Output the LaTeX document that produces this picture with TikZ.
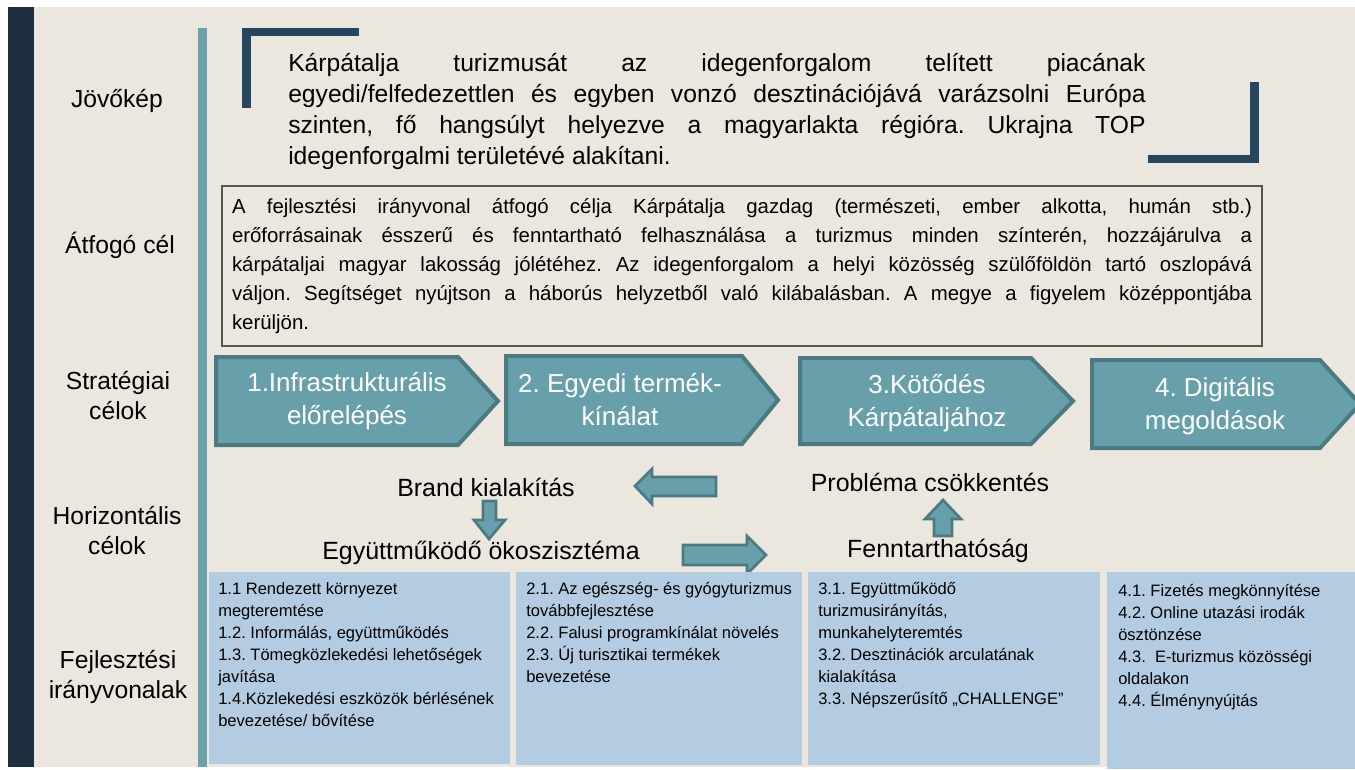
\documentclass[tikz,border=0pt]{standalone}
\usepackage{fontspec}
\setmainfont{Liberation Sans}
\frenchspacing
\usepackage{tikz}
\usetikzlibrary{positioning}
\definecolor{bgbeige}{RGB}{235,231,222}
\definecolor{navybar}{RGB}{30,46,62}
\definecolor{tealline}{RGB}{106,162,172}
\definecolor{bracketblue}{RGB}{38,70,96}
\definecolor{chevfill}{RGB}{103,160,170}
\definecolor{chevborder}{RGB}{76,122,129}
\definecolor{boxblue}{RGB}{180,204,226}
\definecolor{framegray}{RGB}{85,85,85}

\begin{document}
\begin{tikzpicture}[x=0.75pt,y=0.75pt,yscale=-1,
  rowlabel/.style={align=center,inner sep=0pt,font=\fontsize{18.5}{22.5}\selectfont},
  chevron/.style={fill=chevfill,draw=chevborder,line width=3pt,line join=miter},
  chevtext/.style={align=center,inner sep=0pt,text=white,font=\fontsize{19.5}{24.75}\selectfont},
  goaltext/.style={inner sep=0pt,font=\fontsize{18.7}{22}\selectfont},
  blockarrow/.style={fill=chevfill,draw=chevborder,line width=2pt,line join=miter},
  boxtext/.style={anchor=north west,align=left,inner sep=0pt,font=\fontsize{12.4}{16.5}\selectfont}]
\useasboundingbox (0,0) rectangle (1355,769);
\fill[white] (0,0) rectangle (1355,769);
%background
\fill[bgbeige] (8,7) rectangle (1355,767);
\fill[navybar] (8,7) rectangle (34,767);
\fill[tealline] (198,28) rectangle (207,767);

%Shape: Brackets
\draw[bracketblue,line width=6.5pt] (359,32) -- (246.5,32) -- (246.5,108);
\draw[bracketblue,line width=6.5pt] (1254.5,82) -- (1254.5,159) -- (1148,159);

% Text Node
\node[anchor=north west,text width=643pt,align=justify,inner sep=0pt,font=\fontsize{18.5}{23.25}\selectfont] (vision) at (288,53)
  {Kárpátalja turizmusát az idegenforgalom telített piacának\linebreak
   egyedi/felfedezettlen és egyben vonzó desztinációjává varázsolni Európa\linebreak
   szinten, fő hangsúlyt helyezve a magyarlakta régióra. Ukrajna TOP\linebreak
   idegenforgalmi területévé alakítani.};

% Text Node
\node[draw=framegray,line width=1.1pt,text width=765pt,inner xsep=7.5pt,inner ysep=0pt,minimum height=120pt,align=justify,font=\fontsize{15.3}{21.75}\selectfont] (overall) at (742,266)
  {A fejlesztési irányvonal átfogó célja Kárpátalja gazdag (természeti, ember alkotta, humán stb.)\linebreak
   erőforrásainak ésszerű és fenntartható felhasználása a turizmus minden színterén, hozzájárulva a\linebreak
   kárpátaljai magyar lakosság jólétéhez. Az idegenforgalom a helyi közösség szülőföldön tartó oszlopává\linebreak
   váljon. Segítséget nyújtson a háborús helyzetből való kilábalásban. A megye a figyelem középpontjába\linebreak
   kerüljön.};

% Row labels
\node[rowlabel] (lvision) at (117,101) {Jövőkép};
\node[rowlabel] (loverall) at (120,245) {Átfogó cél};
\node[rowlabel] (lstrat) at (118,396) {Stratégiai\\célok};
\node[rowlabel] (lhoriz) at (117,531) {Horizontális\\célok};
\node[rowlabel] (ldev) at (118,677) {Fejlesztési\\irányvonalak};

%Shape: Chevrons
\draw[chevron] (216,357) -- (458,357) -- (498,401) -- (458,445) -- (216,445) -- cycle;
\draw[chevron] (506,356) -- (742,356) -- (778,400) -- (742,444) -- (506,444) -- cycle;
\draw[chevron] (800,358) -- (1031,358) -- (1073,401) -- (1031,444) -- (800,444) -- cycle;
\draw[chevron] (1092,360) -- (1320,360) -- (1360,404) -- (1320,448) -- (1092,448) -- cycle;

% Text Node
\node[chevtext] (goal1) at (347,401) {1.Infrastrukturális\\előrelépés};
\node[chevtext] (goal2) at (620,400) {2. Egyedi termék-\\kínálat};
\node[chevtext] (goal3) at (927,403) {3.Kötődés\\Kárpátaljához};
\node[chevtext] (goal4) at (1215,406) {4. Digitális\\megoldások};

% Horizontal goals
\node[goaltext] (brand) at (486,487) {Brand kialakítás};
\node[goaltext] (ecosys) at (481,553) {Együttműködő ökoszisztéma};
\node[goaltext] (problem) at (930,482) {Probléma csökkentés};
\node[goaltext] (sustain) at (938,551) {Fenntarthatóság};

%Shape: Block arrows
\draw[blockarrow] (635,486) -- (652,469) -- (652,477) -- (716,477) -- (716,496) -- (652,496) -- (652,504) -- cycle;
\draw[blockarrow] (766,555) -- (747,536) -- (747,545) -- (683,545) -- (683,565) -- (747,565) -- (747,574) -- cycle;
\draw[blockarrow] (489,539) -- (474,520) -- (483,520) -- (483,501) -- (496,501) -- (496,520) -- (505,520) -- cycle;
\draw[blockarrow] (943,500) -- (925,519) -- (934,519) -- (934,536) -- (952,536) -- (952,519) -- (961,519) -- cycle;

%Shape: Boxes
\fill[boxblue] (209,572) rectangle (510,764);
\fill[boxblue] (516,572) rectangle (802,765);
\fill[boxblue] (808,572) rectangle (1100,765);
\fill[boxblue] (1107,572) rectangle (1360,769);

% Text Node
\node[boxtext] (dev1) at (218,582) {1.1 Rendezett környezet\\megteremtése\\1.2. Informálás, együttműködés\\1.3. Tömegközlekedési lehetőségek\\javítása\\1.4.Közlekedési eszközök bérlésének\\bevezetése/ bővítése};
\node[boxtext] (dev2) at (526,582) {2.1. Az egészség- és gyógyturizmus\\továbbfejlesztése\\2.2. Falusi programkínálat növelés\\2.3. Új turisztikai termékek\\bevezetése};
\node[boxtext] (dev3) at (818,582) {3.1. Együttműködő\\turizmusirányítás,\\munkahelyteremtés\\3.2. Desztinációk arculatának\\kialakítása\\3.3. Népszerűsítő „CHALLENGE”};
\node[boxtext] (dev4) at (1118,584) {4.1. Fizetés megkönnyítése\\4.2. Online utazási irodák\\ösztönzése\\4.3.\ \ E-turizmus közösségi\\oldalakon\\4.4. Élménynyújtás};

\end{tikzpicture}
\end{document}
